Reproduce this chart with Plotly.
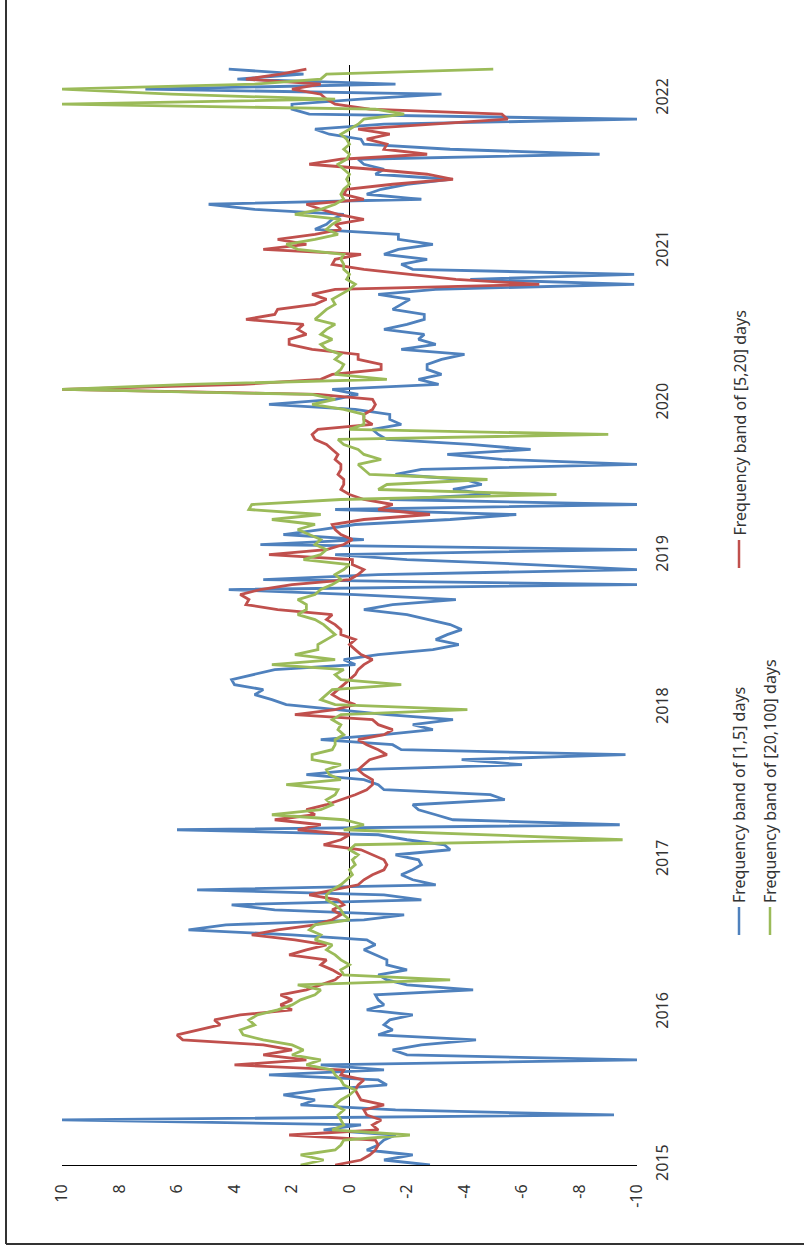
import pandas as pd
import plotly.graph_objects as go

# values, one every 12 days from 2015-01-01
band_1_5 = [
    -2.8, -1.2, -2.2, -0.6, -1.0, -1.2, -1.6, 0.9, -0.4, 10.0,
    -9.2, -1.6, 1.7, 1.2, 2.3, 1.0, -1.3, -1.0, 2.8, -1.2,
    1.0, -10.0, -2.0, -1.5, -2.5, -4.4, -1.0, -1.5, -1.2, -1.4,
    -2.2, -0.6, -1.2, -1.0, -0.9, -4.3, -2.0, -1.3, -1.0, -2.0,
    -1.3, -1.3, -0.9, -0.5, -0.9, -0.6, 2.0, 5.6, 4.3, -0.5,
    -1.9, 2.6, 4.1, -2.5, -1.2, 5.3, -3.0, -2.2, -1.8, -2.2,
    -2.5, -2.4, -1.6, -3.5, -3.3, -2.0, -1.0, 6.0, -9.4, -3.6,
    -3.0, -2.4, -2.2, -5.4, -4.9, -1.2, -1.0, -0.5, 1.5, -0.3,
    -6.0, -3.9, -9.6, -1.8, -1.5, 1.0, -1.2, -2.9, -2.2, -3.6,
    -1.3, 0.5, 2.2, 2.7, 3.3, 3.0, 4.0, 4.1, 3.4, 2.6,
    -0.2, 0.2, -1.0, -2.9, -3.8, -3.0, -3.4, -3.9, -3.5, -2.8,
    -2.0, -0.5, -1.5, -3.7, -0.2, 4.2, -10.0, 3.0, -1.0, -10.0,
    -6.3, -2.0, 0.5, -10.0, 3.1, -0.5, 2.3, 1.0, -0.2, -3.5,
    -5.8, 0.5, -10.0, -1.4, -4.9, -3.6, -4.6, -4.0, -1.6, -2.5,
    -10.0, -5.3, -3.4, -6.3, -4.2, -1.3, -1.0, -0.8, -1.8, -1.4,
    -1.4, -0.2, 2.8, 0.5, -0.3, 0.6, -3.1, -2.4, -3.2, -2.7,
    -2.7, -3.2, -4.0, -1.8, -3.0, -2.4, -2.6, -1.2, -2.0, -2.6,
    -2.6, -1.5, -1.8, -2.1, -1.0, -3.0, -9.9, -4.2, -9.9, -2.2,
    -1.8, -2.7, -1.2, -1.7, -2.9, -1.7, -1.7, 1.2, 0.8, 0.6,
    0.2, 3.3, 4.9, -2.5, -0.6, -1.1, -2.0, -3.5, -0.9, -1.2,
    -0.5, -0.3, -8.7, -3.5, -0.5, -0.4, 0.7, 1.2, -1.2, -10.0,
    1.4, 2.0, 2.0, -0.4, -3.2, 7.1, -1.6, 3.9, 1.6, 4.2,
]

band_5_20 = [
    0.5, -0.4, -0.7, -0.9, -1.0, -0.9, 2.1, -1.0, -0.8, -1.1,
    -0.6, -0.5, -1.2, -0.4, -0.3, -0.2, -0.3, -0.5, 0.3, 0.2,
    4.0, 1.5, 3.0, 2.0, 3.0, 5.8, 6.0, 5.3, 4.5, 4.7,
    3.8, 2.0, 2.4, 2.0, 2.4, 1.5, 1.0, 0.5, 0.3, 0.6,
    1.0, 0.8, 2.1, 1.5, 0.8, 1.9, 3.4, 2.5, 1.2, 0.6,
    0.3, 0.6, 0.2, 0.4, 1.4, 0.6, -0.3, -0.5, -0.8, -1.2,
    -1.3, -1.2, -0.8, -0.4, 0.9, 0.3, 0.0, 1.8, 1.0, 2.6,
    1.2, 1.5, 0.8, 0.3, -0.2, -0.6, -0.8, -0.8, -0.5, -0.3,
    -0.5, -0.7, -1.3, -1.0, -0.6, -0.3, -1.2, -1.5, -1.0, -0.8,
    1.9, 0.5, -0.2, 0.3, 0.6, 0.4, 0.2, 0.0, -0.2, -0.3,
    -0.5, -0.8, -0.4, -0.2, 0.0, -0.2, 0.3, 0.3, 0.5, 0.8,
    0.6, 2.5, 3.6, 3.5, 3.8, 3.1, 2.0, 0.0, -0.3, -0.5,
    -0.1, -0.1, 2.8, 0.8, 0.2, -0.1, 0.3, 0.5, 0.6, -0.5,
    -2.8, -1.0, -1.5, -0.5, 0.0, 0.3, 0.2, 0.2, 0.4, 0.3,
    0.3, 0.5, 0.4, 0.6, 0.8, 1.2, 1.3, 1.1, -0.8, -0.5,
    -0.5, -0.8, -0.9, -0.8, 1.1, 10.0, 3.7, 1.0, 0.6, -1.1,
    -1.1, -0.3, -0.3, 1.3, 2.1, 2.1, 1.5, 1.8, 1.6, 3.6,
    2.6, 2.5, 1.2, 0.8, 1.3, 0.5, -6.6, -3.7, -2.0, -0.5,
    0.6, 0.5, -0.4, 3.0, 1.5, 2.5, 1.2, 0.3, 0.5, -0.5,
    0.4, 1.0, 1.5, -0.5, 0.2, 0.1, -1.5, -3.6, -2.7, -0.8,
    1.4, 0.3, -2.7, -1.2, -1.3, -0.6, -1.4, -0.3, -2.9, -5.5,
    -5.3, -0.7, 0.5, 0.8, 1.0, 2.0, 1.0, 3.6, 2.4, 1.5,
]

band_20_100 = [
    1.7, 0.9, 1.7, 0.5, 0.3, 0.2, -2.1, 0.6, 0.2, 0.3,
    0.4, 0.2, 0.5, 0.3, 0.0, -0.2, 0.2, 0.3, 0.5, 0.6,
    1.5, 1.0, 2.0, 1.6, 2.0, 3.0, 3.7, 3.8, 3.3, 3.5,
    3.2, 2.5, 2.0, 1.7, 1.2, 1.0, 1.8, -3.5, 0.2, 0.3,
    0.0, 0.3, 0.5, 0.8, 0.6, 1.2, 1.0, 1.4, 1.2, 0.0,
    0.2, 0.3, 0.5, 0.8, 0.8, 0.6, 0.3, 0.1, -0.1, 0.0,
    -0.2, -0.1, -0.3, 0.0, -0.2, -9.5, -4.3, 0.2, -0.5, 0.2,
    2.7, 1.0, 0.6, 0.8, 0.5, 0.4, 2.2, 0.3, 0.7, 0.8,
    0.3, 1.3, 1.3, 0.6, 0.5, 0.5, 0.2, 0.4, 0.3, 0.6,
    0.3, -4.1, 0.5, 1.0, 0.8, 0.6, -1.8, 0.3, 0.5, 0.2,
    2.7, 0.5, 1.9, 1.1, 1.1, 0.8, 0.5, 0.7, 0.9, 1.2,
    1.8, 1.5, 1.5, 1.8, 1.2, 1.0, 0.6, 0.3, 0.5, 0.2,
    0.0, 1.6, 1.0, 0.8, 1.2, 1.0, 1.4, 1.8, 1.2, 2.7,
    1.0, 3.5, 3.4, 0.3, -7.2, -1.0, -1.3, -4.8, -0.7, -0.5,
    -0.3, -1.1, -0.5, -0.3, 0.2, 0.4, -9.0, 0.0, -0.5, -0.5,
    -0.5, 0.2, 1.3, 0.5, 1.3, 10.0, 5.6, -1.3, 0.5, 0.3,
    0.2, 0.5, 0.3, 0.8, 1.0, 0.6, 1.0, 0.8, 0.5, 1.2,
    1.0, 0.8, 0.5, 0.6, 0.3, 0.0, -0.2, 0.1, 0.0, 0.2,
    0.2, 0.3, 0.2, 1.8, 2.2, 1.2, 0.4, 0.8, 0.6, 0.3,
    1.9, 1.0, 0.5, 0.2, 0.3, 0.2, 0.0, 0.1, 0.0, 0.2,
    0.4, 0.1, 0.0, 0.2, 0.0, 0.1, 0.3, 0.0, -0.3, -0.5,
    -1.9, -0.9, 10.0, 0.5, 6.2, 10.0, 3.3, 1.0, 0.8, -5.0,
]

series_names = [
    "Frequency band of [1,5] days",
    "Frequency band of [5,20] days",
    "Frequency band of [20,100] days",
]
colors = ["#4F81BD", "#C0504D", "#9BBB59"]

years = [2015, 2016, 2017, 2018, 2019, 2020, 2021, 2022]
value_ticks = [10, 8, 6, 4, 2, 0, -2, -4, -6, -8, -10]

dates = pd.date_range("2015-01-01", periods=len(band_1_5), freq="12D")

W, H = 804, 1249
L, R, T, B = 62, 167, 65, 84
FONT = "Noto Sans"


# pixel -> paper, for the legend and the frame drawn outside the plot
def px(x):
    return (x - L) / (W - L - R)


def py(y):
    return (H - B - y) / (H - T - B)


fig = go.Figure()
for vals, name, col in zip([band_1_5, band_5_20, band_20_100], series_names, colors):
    fig.add_trace(go.Scatter(x=vals, y=dates, mode="lines", name=name,
                             line=dict(color=col, width=2.8)))

fig.update_layout(
    width=W, height=H,
    margin=dict(l=L, r=R, t=T, b=B),
    paper_bgcolor="white", plot_bgcolor="white",
    showlegend=False,
    font=dict(family=FONT, size=16, color="#333333"),
)
fig.update_xaxes(
    range=[10, -10], tickvals=value_ticks, ticktext=[str(v) for v in value_ticks],
    tickangle=-90, showgrid=False, zeroline=True, zerolinecolor="black", zerolinewidth=1,
    showline=True, linecolor="black", linewidth=1, ticks="", ticklabelstandoff=12,
)
fig.update_yaxes(
    type="date", range=["2015-01-01", "2022-03-23"],
    tickvals=[f"{y}-01-01" for y in years], ticktext=[str(y) for y in years],
    side="right", tickangle=-90, showgrid=False, zeroline=False, showline=False,
    ticks="", ticklabelstandoff=14,
)

# legend, turned like the rest of the chart
legend_pos = [(739, 935), (739, 568), (770, 935)]
for (lx, ly), name, col in zip(legend_pos, series_names, colors):
    fig.add_shape(type="line", xref="paper", yref="paper",
                  x0=px(lx), x1=px(lx), y0=py(ly), y1=py(ly - 28),
                  line=dict(color=col, width=2.5))
    fig.add_annotation(text=name, xref="paper", yref="paper", x=px(lx), y=py(ly - 30),
                       xanchor="center", yanchor="bottom", textangle=-90, showarrow=False,
                       font=dict(family=FONT, size=16, color="#333333"))

# frame on the left and bottom
fig.add_shape(type="line", xref="paper", yref="paper", x0=px(6), x1=px(6), y0=py(0), y1=py(1244),
              line=dict(color="#333333", width=2))
fig.add_shape(type="line", xref="paper", yref="paper", x0=px(6), x1=px(W), y0=py(1244), y1=py(1244),
              line=dict(color="#333333", width=2))

fig.write_html("out.html", config={"displayModeBar": False},
               post_script="document.body.style.margin='0px';")
